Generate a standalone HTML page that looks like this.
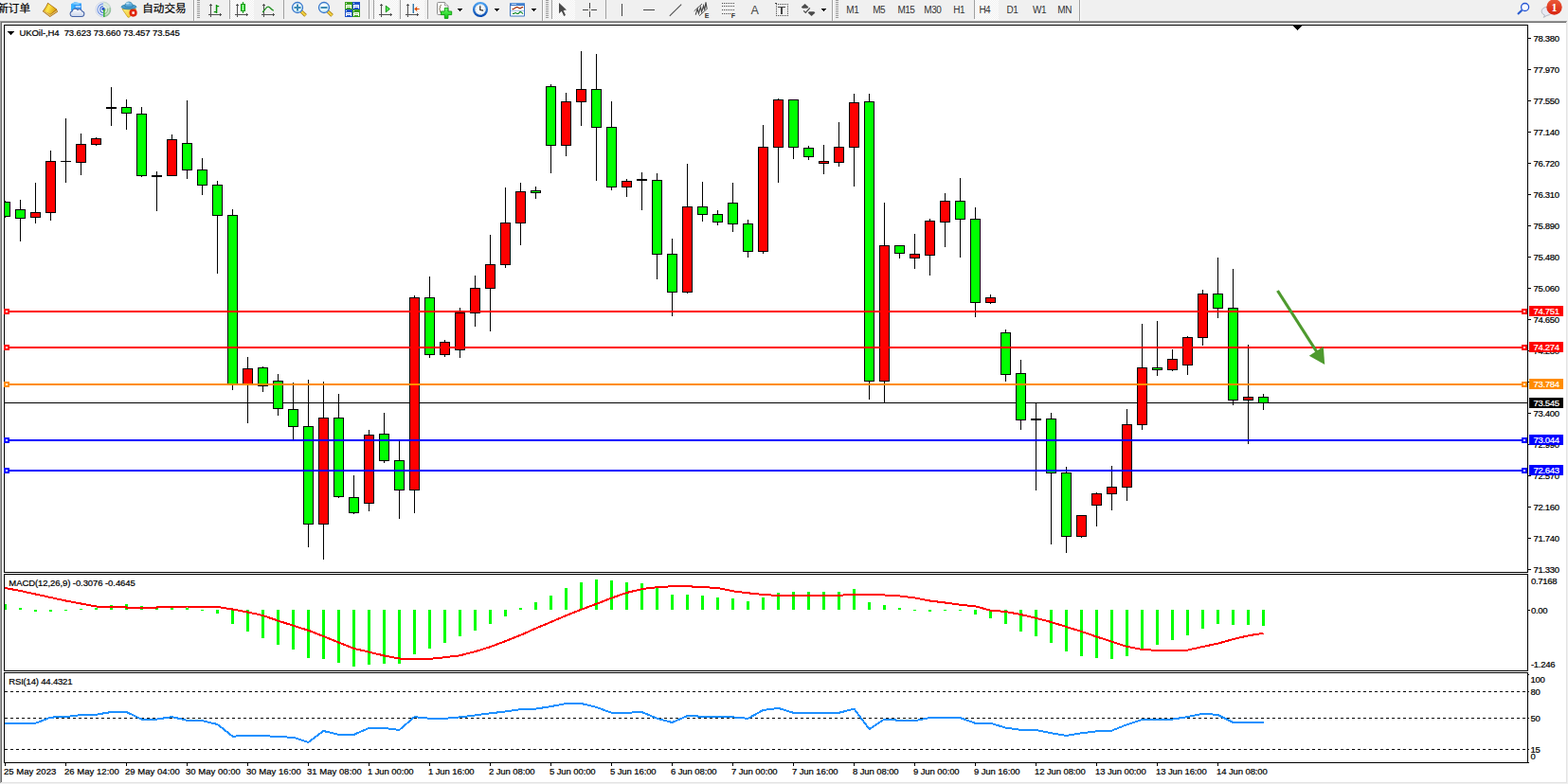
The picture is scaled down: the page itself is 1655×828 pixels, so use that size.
<!DOCTYPE html>
<html><head><meta charset="utf-8"><title>chart</title>
<style>html,body{margin:0;padding:0;width:1655px;height:828px;overflow:hidden;background:#f0f0f0;font-family:"Liberation Sans",sans-serif}</style>
</head><body>
<svg width="1655" height="828" viewBox="0 0 1655 828" style="position:absolute;left:0;top:0;font-family:'Liberation Sans',sans-serif" shape-rendering="crispEdges">
<rect x="0" y="0" width="1655" height="828" fill="#f0f0f0"/>
<rect x="0" y="22" width="1654" height="805" fill="#e3e3e3"/>
<rect x="0" y="22" width="1653" height="804" fill="#fff"/>
<rect x="0" y="22" width="1654" height="1" fill="#a0a0a0"/>
<rect x="0" y="23" width="1653" height="1" fill="#696969"/>
<rect x="0" y="22" width="1" height="805" fill="#a0a0a0"/>
<rect x="1" y="23" width="1" height="803" fill="#696969"/>
<rect x="4" y="26" width="1609" height="1" fill="#000"/>
<rect x="4" y="26" width="1" height="780" fill="#000"/>
<rect x="1612" y="26" width="1" height="780" fill="#000"/>
<rect x="4" y="604" width="1609" height="1" fill="#000"/>
<rect x="4" y="606" width="1609" height="1" fill="#000"/>
<rect x="4" y="708" width="1609" height="1" fill="#000"/>
<rect x="4" y="710" width="1609" height="1" fill="#000"/>
<rect x="4" y="805" width="1609" height="1" fill="#000"/>
<rect x="4" y="605" width="1609" height="1" fill="#fff"/>
<rect x="4" y="709" width="1609" height="1" fill="#fff"/>
<rect x="1365" y="27" width="9" height="1" fill="#000"/>
<rect x="1366" y="28" width="7" height="1" fill="#000"/>
<rect x="1367" y="29" width="5" height="1" fill="#000"/>
<rect x="1368" y="30" width="3" height="1" fill="#000"/>
<rect x="1369" y="31" width="1" height="1" fill="#000"/>
<rect x="5" y="425" width="1607" height="1" fill="#000"/>
<rect x="5" y="212" width="1" height="18" fill="#000"/>
<rect x="5" y="213" width="6" height="16" fill="#000"/>
<rect x="5" y="214" width="5" height="14" fill="#00ff00"/>
<rect x="21" y="211" width="1" height="44" fill="#000"/>
<rect x="16" y="221" width="11" height="10" fill="#000"/>
<rect x="17" y="222" width="9" height="8" fill="#00ff00"/>
<rect x="37" y="193" width="1" height="43" fill="#000"/>
<rect x="32" y="224" width="11" height="6" fill="#000"/>
<rect x="33" y="225" width="9" height="4" fill="#ff0000"/>
<rect x="53" y="159" width="1" height="74" fill="#000"/>
<rect x="48" y="170" width="11" height="55" fill="#000"/>
<rect x="49" y="171" width="9" height="53" fill="#ff0000"/>
<rect x="69" y="125" width="1" height="68" fill="#000"/>
<rect x="64" y="170" width="11" height="1" fill="#000"/>
<rect x="85" y="141" width="1" height="44" fill="#000"/>
<rect x="80" y="152" width="11" height="20" fill="#000"/>
<rect x="81" y="153" width="9" height="18" fill="#ff0000"/>
<rect x="101" y="145" width="1" height="9" fill="#000"/>
<rect x="96" y="146" width="11" height="7" fill="#000"/>
<rect x="97" y="147" width="9" height="5" fill="#ff0000"/>
<rect x="117" y="92" width="1" height="41" fill="#000"/>
<rect x="112" y="113" width="11" height="2" fill="#000"/>
<rect x="133" y="105" width="1" height="32" fill="#000"/>
<rect x="128" y="113" width="11" height="7" fill="#000"/>
<rect x="129" y="114" width="9" height="5" fill="#00ff00"/>
<rect x="149" y="113" width="1" height="74" fill="#000"/>
<rect x="144" y="120" width="11" height="66" fill="#000"/>
<rect x="145" y="121" width="9" height="64" fill="#00ff00"/>
<rect x="165" y="181" width="1" height="42" fill="#000"/>
<rect x="160" y="185" width="11" height="2" fill="#000"/>
<rect x="181" y="142" width="1" height="44" fill="#000"/>
<rect x="176" y="147" width="11" height="39" fill="#000"/>
<rect x="177" y="148" width="9" height="37" fill="#ff0000"/>
<rect x="197" y="106" width="1" height="83" fill="#000"/>
<rect x="192" y="151" width="11" height="29" fill="#000"/>
<rect x="193" y="152" width="9" height="27" fill="#00ff00"/>
<rect x="213" y="167" width="1" height="39" fill="#000"/>
<rect x="208" y="179" width="11" height="17" fill="#000"/>
<rect x="209" y="180" width="9" height="15" fill="#00ff00"/>
<rect x="229" y="191" width="1" height="98" fill="#000"/>
<rect x="224" y="195" width="11" height="33" fill="#000"/>
<rect x="225" y="196" width="9" height="31" fill="#00ff00"/>
<rect x="245" y="221" width="1" height="191" fill="#000"/>
<rect x="240" y="227" width="11" height="179" fill="#000"/>
<rect x="241" y="228" width="9" height="177" fill="#00ff00"/>
<rect x="261" y="377" width="1" height="70" fill="#000"/>
<rect x="256" y="389" width="11" height="17" fill="#000"/>
<rect x="257" y="390" width="9" height="15" fill="#ff0000"/>
<rect x="277" y="387" width="1" height="27" fill="#000"/>
<rect x="272" y="388" width="11" height="20" fill="#000"/>
<rect x="273" y="389" width="9" height="18" fill="#00ff00"/>
<rect x="293" y="395" width="1" height="44" fill="#000"/>
<rect x="288" y="402" width="11" height="30" fill="#000"/>
<rect x="289" y="403" width="9" height="28" fill="#00ff00"/>
<rect x="309" y="404" width="1" height="60" fill="#000"/>
<rect x="304" y="432" width="11" height="19" fill="#000"/>
<rect x="305" y="433" width="9" height="17" fill="#00ff00"/>
<rect x="325" y="401" width="1" height="177" fill="#000"/>
<rect x="320" y="450" width="11" height="104" fill="#000"/>
<rect x="321" y="451" width="9" height="102" fill="#00ff00"/>
<rect x="341" y="403" width="1" height="188" fill="#000"/>
<rect x="336" y="441" width="11" height="113" fill="#000"/>
<rect x="337" y="442" width="9" height="111" fill="#ff0000"/>
<rect x="357" y="416" width="1" height="110" fill="#000"/>
<rect x="352" y="441" width="11" height="84" fill="#000"/>
<rect x="353" y="442" width="9" height="82" fill="#00ff00"/>
<rect x="373" y="502" width="1" height="41" fill="#000"/>
<rect x="368" y="525" width="11" height="17" fill="#000"/>
<rect x="369" y="526" width="9" height="15" fill="#00ff00"/>
<rect x="389" y="454" width="1" height="86" fill="#000"/>
<rect x="384" y="459" width="11" height="73" fill="#000"/>
<rect x="385" y="460" width="9" height="71" fill="#ff0000"/>
<rect x="405" y="436" width="1" height="53" fill="#000"/>
<rect x="400" y="458" width="11" height="29" fill="#000"/>
<rect x="401" y="459" width="9" height="27" fill="#00ff00"/>
<rect x="421" y="466" width="1" height="82" fill="#000"/>
<rect x="416" y="486" width="11" height="32" fill="#000"/>
<rect x="417" y="487" width="9" height="30" fill="#00ff00"/>
<rect x="437" y="312" width="1" height="230" fill="#000"/>
<rect x="432" y="314" width="11" height="204" fill="#000"/>
<rect x="433" y="315" width="9" height="202" fill="#ff0000"/>
<rect x="453" y="292" width="1" height="86" fill="#000"/>
<rect x="448" y="314" width="11" height="61" fill="#000"/>
<rect x="449" y="315" width="9" height="59" fill="#00ff00"/>
<rect x="469" y="359" width="1" height="18" fill="#000"/>
<rect x="464" y="361" width="11" height="14" fill="#000"/>
<rect x="465" y="362" width="9" height="12" fill="#ff0000"/>
<rect x="485" y="325" width="1" height="53" fill="#000"/>
<rect x="480" y="330" width="11" height="40" fill="#000"/>
<rect x="481" y="331" width="9" height="38" fill="#ff0000"/>
<rect x="501" y="291" width="1" height="54" fill="#000"/>
<rect x="496" y="304" width="11" height="27" fill="#000"/>
<rect x="497" y="305" width="9" height="25" fill="#ff0000"/>
<rect x="517" y="248" width="1" height="102" fill="#000"/>
<rect x="512" y="279" width="11" height="26" fill="#000"/>
<rect x="513" y="280" width="9" height="24" fill="#ff0000"/>
<rect x="533" y="198" width="1" height="85" fill="#000"/>
<rect x="528" y="235" width="11" height="45" fill="#000"/>
<rect x="529" y="236" width="9" height="43" fill="#ff0000"/>
<rect x="549" y="193" width="1" height="66" fill="#000"/>
<rect x="544" y="202" width="11" height="34" fill="#000"/>
<rect x="545" y="203" width="9" height="32" fill="#ff0000"/>
<rect x="565" y="197" width="1" height="13" fill="#000"/>
<rect x="560" y="201" width="11" height="3" fill="#000"/>
<rect x="561" y="202" width="9" height="1" fill="#00ff00"/>
<rect x="581" y="89" width="1" height="94" fill="#000"/>
<rect x="576" y="91" width="11" height="63" fill="#000"/>
<rect x="577" y="92" width="9" height="61" fill="#00ff00"/>
<rect x="597" y="98" width="1" height="67" fill="#000"/>
<rect x="592" y="107" width="11" height="47" fill="#000"/>
<rect x="593" y="108" width="9" height="45" fill="#ff0000"/>
<rect x="613" y="54" width="1" height="79" fill="#000"/>
<rect x="608" y="94" width="11" height="14" fill="#000"/>
<rect x="609" y="95" width="9" height="12" fill="#ff0000"/>
<rect x="629" y="57" width="1" height="134" fill="#000"/>
<rect x="624" y="94" width="11" height="41" fill="#000"/>
<rect x="625" y="95" width="9" height="39" fill="#00ff00"/>
<rect x="645" y="107" width="1" height="94" fill="#000"/>
<rect x="640" y="134" width="11" height="64" fill="#000"/>
<rect x="641" y="135" width="9" height="62" fill="#00ff00"/>
<rect x="661" y="189" width="1" height="19" fill="#000"/>
<rect x="656" y="191" width="11" height="7" fill="#000"/>
<rect x="657" y="192" width="9" height="5" fill="#ff0000"/>
<rect x="677" y="182" width="1" height="40" fill="#000"/>
<rect x="672" y="189" width="11" height="2" fill="#000"/>
<rect x="693" y="183" width="1" height="112" fill="#000"/>
<rect x="688" y="190" width="11" height="79" fill="#000"/>
<rect x="689" y="191" width="9" height="77" fill="#00ff00"/>
<rect x="709" y="252" width="1" height="82" fill="#000"/>
<rect x="704" y="268" width="11" height="41" fill="#000"/>
<rect x="705" y="269" width="9" height="39" fill="#00ff00"/>
<rect x="725" y="173" width="1" height="137" fill="#000"/>
<rect x="720" y="218" width="11" height="91" fill="#000"/>
<rect x="721" y="219" width="9" height="89" fill="#ff0000"/>
<rect x="741" y="192" width="1" height="42" fill="#000"/>
<rect x="736" y="218" width="11" height="9" fill="#000"/>
<rect x="737" y="219" width="9" height="7" fill="#00ff00"/>
<rect x="757" y="222" width="1" height="16" fill="#000"/>
<rect x="752" y="226" width="11" height="9" fill="#000"/>
<rect x="753" y="227" width="9" height="7" fill="#00ff00"/>
<rect x="773" y="193" width="1" height="52" fill="#000"/>
<rect x="768" y="214" width="11" height="23" fill="#000"/>
<rect x="769" y="215" width="9" height="21" fill="#00ff00"/>
<rect x="789" y="232" width="1" height="40" fill="#000"/>
<rect x="784" y="236" width="11" height="30" fill="#000"/>
<rect x="785" y="237" width="9" height="28" fill="#00ff00"/>
<rect x="805" y="132" width="1" height="136" fill="#000"/>
<rect x="800" y="155" width="11" height="111" fill="#000"/>
<rect x="801" y="156" width="9" height="109" fill="#ff0000"/>
<rect x="821" y="104" width="1" height="89" fill="#000"/>
<rect x="816" y="105" width="11" height="51" fill="#000"/>
<rect x="817" y="106" width="9" height="49" fill="#ff0000"/>
<rect x="837" y="105" width="1" height="63" fill="#000"/>
<rect x="832" y="105" width="11" height="51" fill="#000"/>
<rect x="833" y="106" width="9" height="49" fill="#00ff00"/>
<rect x="853" y="154" width="1" height="15" fill="#000"/>
<rect x="848" y="156" width="11" height="10" fill="#000"/>
<rect x="849" y="157" width="9" height="8" fill="#00ff00"/>
<rect x="869" y="153" width="1" height="31" fill="#000"/>
<rect x="864" y="170" width="11" height="3" fill="#000"/>
<rect x="865" y="171" width="9" height="1" fill="#ff0000"/>
<rect x="885" y="129" width="1" height="47" fill="#000"/>
<rect x="880" y="155" width="11" height="17" fill="#000"/>
<rect x="881" y="156" width="9" height="15" fill="#ff0000"/>
<rect x="901" y="99" width="1" height="98" fill="#000"/>
<rect x="896" y="108" width="11" height="48" fill="#000"/>
<rect x="897" y="109" width="9" height="46" fill="#ff0000"/>
<rect x="917" y="99" width="1" height="323" fill="#000"/>
<rect x="912" y="107" width="11" height="296" fill="#000"/>
<rect x="913" y="108" width="9" height="294" fill="#00ff00"/>
<rect x="933" y="214" width="1" height="211" fill="#000"/>
<rect x="928" y="259" width="11" height="144" fill="#000"/>
<rect x="929" y="260" width="9" height="142" fill="#ff0000"/>
<rect x="949" y="259" width="1" height="14" fill="#000"/>
<rect x="944" y="259" width="11" height="9" fill="#000"/>
<rect x="945" y="260" width="9" height="7" fill="#00ff00"/>
<rect x="965" y="247" width="1" height="37" fill="#000"/>
<rect x="960" y="268" width="11" height="5" fill="#000"/>
<rect x="961" y="269" width="9" height="3" fill="#ff0000"/>
<rect x="981" y="231" width="1" height="60" fill="#000"/>
<rect x="976" y="233" width="11" height="37" fill="#000"/>
<rect x="977" y="234" width="9" height="35" fill="#ff0000"/>
<rect x="997" y="204" width="1" height="57" fill="#000"/>
<rect x="992" y="212" width="11" height="23" fill="#000"/>
<rect x="993" y="213" width="9" height="21" fill="#ff0000"/>
<rect x="1013" y="188" width="1" height="84" fill="#000"/>
<rect x="1008" y="212" width="11" height="20" fill="#000"/>
<rect x="1009" y="213" width="9" height="18" fill="#00ff00"/>
<rect x="1029" y="219" width="1" height="116" fill="#000"/>
<rect x="1024" y="231" width="11" height="89" fill="#000"/>
<rect x="1025" y="232" width="9" height="87" fill="#00ff00"/>
<rect x="1045" y="311" width="1" height="10" fill="#000"/>
<rect x="1040" y="314" width="11" height="6" fill="#000"/>
<rect x="1041" y="315" width="9" height="4" fill="#ff0000"/>
<rect x="1061" y="348" width="1" height="55" fill="#000"/>
<rect x="1056" y="351" width="11" height="45" fill="#000"/>
<rect x="1057" y="352" width="9" height="43" fill="#00ff00"/>
<rect x="1077" y="380" width="1" height="74" fill="#000"/>
<rect x="1072" y="394" width="11" height="50" fill="#000"/>
<rect x="1073" y="395" width="9" height="48" fill="#00ff00"/>
<rect x="1093" y="426" width="1" height="92" fill="#000"/>
<rect x="1088" y="442" width="11" height="2" fill="#000"/>
<rect x="1109" y="436" width="1" height="139" fill="#000"/>
<rect x="1104" y="442" width="11" height="58" fill="#000"/>
<rect x="1105" y="443" width="9" height="56" fill="#00ff00"/>
<rect x="1125" y="493" width="1" height="91" fill="#000"/>
<rect x="1120" y="499" width="11" height="68" fill="#000"/>
<rect x="1121" y="500" width="9" height="66" fill="#00ff00"/>
<rect x="1141" y="544" width="1" height="24" fill="#000"/>
<rect x="1136" y="544" width="11" height="23" fill="#000"/>
<rect x="1137" y="545" width="9" height="21" fill="#ff0000"/>
<rect x="1157" y="520" width="1" height="36" fill="#000"/>
<rect x="1152" y="521" width="11" height="13" fill="#000"/>
<rect x="1153" y="522" width="9" height="11" fill="#ff0000"/>
<rect x="1173" y="492" width="1" height="47" fill="#000"/>
<rect x="1168" y="514" width="11" height="8" fill="#000"/>
<rect x="1169" y="515" width="9" height="6" fill="#ff0000"/>
<rect x="1189" y="432" width="1" height="97" fill="#000"/>
<rect x="1184" y="448" width="11" height="67" fill="#000"/>
<rect x="1185" y="449" width="9" height="65" fill="#ff0000"/>
<rect x="1205" y="342" width="1" height="112" fill="#000"/>
<rect x="1200" y="388" width="11" height="61" fill="#000"/>
<rect x="1201" y="389" width="9" height="59" fill="#ff0000"/>
<rect x="1221" y="339" width="1" height="58" fill="#000"/>
<rect x="1216" y="388" width="11" height="3" fill="#000"/>
<rect x="1217" y="389" width="9" height="1" fill="#00ff00"/>
<rect x="1237" y="369" width="1" height="23" fill="#000"/>
<rect x="1232" y="379" width="11" height="12" fill="#000"/>
<rect x="1233" y="380" width="9" height="10" fill="#ff0000"/>
<rect x="1253" y="355" width="1" height="41" fill="#000"/>
<rect x="1248" y="356" width="11" height="30" fill="#000"/>
<rect x="1249" y="357" width="9" height="28" fill="#ff0000"/>
<rect x="1269" y="306" width="1" height="59" fill="#000"/>
<rect x="1264" y="310" width="11" height="47" fill="#000"/>
<rect x="1265" y="311" width="9" height="45" fill="#ff0000"/>
<rect x="1285" y="272" width="1" height="64" fill="#000"/>
<rect x="1280" y="310" width="11" height="16" fill="#000"/>
<rect x="1281" y="311" width="9" height="14" fill="#00ff00"/>
<rect x="1301" y="284" width="1" height="144" fill="#000"/>
<rect x="1296" y="325" width="11" height="98" fill="#000"/>
<rect x="1297" y="326" width="9" height="96" fill="#00ff00"/>
<rect x="1317" y="364" width="1" height="105" fill="#000"/>
<rect x="1312" y="419" width="11" height="4" fill="#000"/>
<rect x="1313" y="420" width="9" height="2" fill="#ff0000"/>
<rect x="1333" y="416" width="1" height="17" fill="#000"/>
<rect x="1328" y="419" width="11" height="7" fill="#000"/>
<rect x="1329" y="420" width="9" height="5" fill="#00ff00"/>
<rect x="5" y="328" width="1607" height="2" fill="#ff0000"/>
<rect x="4" y="326" width="6" height="6" fill="#ff0000"/>
<rect x="6" y="328" width="2" height="2" fill="#fff"/>
<rect x="1606" y="326" width="6" height="6" fill="#ff0000"/>
<rect x="1608" y="328" width="2" height="2" fill="#fff"/>
<rect x="5" y="366" width="1607" height="2" fill="#ff0000"/>
<rect x="4" y="364" width="6" height="6" fill="#ff0000"/>
<rect x="6" y="366" width="2" height="2" fill="#fff"/>
<rect x="1606" y="364" width="6" height="6" fill="#ff0000"/>
<rect x="1608" y="366" width="2" height="2" fill="#fff"/>
<rect x="5" y="405" width="1607" height="2" fill="#ff8c00"/>
<rect x="4" y="403" width="6" height="6" fill="#ff8c00"/>
<rect x="6" y="405" width="2" height="2" fill="#fff"/>
<rect x="1606" y="403" width="6" height="6" fill="#ff8c00"/>
<rect x="1608" y="405" width="2" height="2" fill="#fff"/>
<rect x="5" y="464" width="1607" height="2" fill="#0000ff"/>
<rect x="4" y="462" width="6" height="6" fill="#0000ff"/>
<rect x="6" y="464" width="2" height="2" fill="#fff"/>
<rect x="1606" y="462" width="6" height="6" fill="#0000ff"/>
<rect x="1608" y="464" width="2" height="2" fill="#fff"/>
<rect x="5" y="496" width="1607" height="2" fill="#0000ff"/>
<rect x="4" y="494" width="6" height="6" fill="#0000ff"/>
<rect x="6" y="496" width="2" height="2" fill="#fff"/>
<rect x="1606" y="494" width="6" height="6" fill="#0000ff"/>
<rect x="1608" y="496" width="2" height="2" fill="#fff"/>
<g shape-rendering="geometricPrecision"><line x1="1348.5" y1="307" x2="1392" y2="375" stroke="#4e9a2e" stroke-width="3.2"/><polygon points="1396.8,366 1381.8,375.7 1398.2,384.9" fill="#4e9a2e"/></g>
<rect x="5" y="638" width="2" height="6" fill="#00ff00"/>
<rect x="20" y="642" width="3" height="2" fill="#00ff00"/>
<rect x="36" y="644" width="3" height="2" fill="#00ff00"/>
<rect x="52" y="644" width="3" height="2" fill="#00ff00"/>
<rect x="68" y="644" width="3" height="1" fill="#00ff00"/>
<rect x="84" y="643" width="3" height="1" fill="#00ff00"/>
<rect x="100" y="642" width="3" height="2" fill="#00ff00"/>
<rect x="116" y="639" width="3" height="5" fill="#00ff00"/>
<rect x="132" y="638" width="3" height="6" fill="#00ff00"/>
<rect x="148" y="640" width="3" height="4" fill="#00ff00"/>
<rect x="164" y="642" width="3" height="2" fill="#00ff00"/>
<rect x="180" y="642" width="3" height="2" fill="#00ff00"/>
<rect x="196" y="642" width="3" height="2" fill="#00ff00"/>
<rect x="212" y="644" width="3" height="1" fill="#00ff00"/>
<rect x="228" y="644" width="3" height="4" fill="#00ff00"/>
<rect x="244" y="644" width="3" height="15" fill="#00ff00"/>
<rect x="260" y="644" width="3" height="23" fill="#00ff00"/>
<rect x="276" y="644" width="3" height="30" fill="#00ff00"/>
<rect x="292" y="644" width="3" height="37" fill="#00ff00"/>
<rect x="308" y="644" width="3" height="42" fill="#00ff00"/>
<rect x="324" y="644" width="3" height="51" fill="#00ff00"/>
<rect x="340" y="644" width="3" height="52" fill="#00ff00"/>
<rect x="356" y="644" width="3" height="56" fill="#00ff00"/>
<rect x="372" y="644" width="3" height="60" fill="#00ff00"/>
<rect x="388" y="644" width="3" height="58" fill="#00ff00"/>
<rect x="404" y="644" width="3" height="57" fill="#00ff00"/>
<rect x="420" y="644" width="3" height="57" fill="#00ff00"/>
<rect x="436" y="644" width="3" height="47" fill="#00ff00"/>
<rect x="452" y="644" width="3" height="41" fill="#00ff00"/>
<rect x="468" y="644" width="3" height="35" fill="#00ff00"/>
<rect x="484" y="644" width="3" height="28" fill="#00ff00"/>
<rect x="500" y="644" width="3" height="22" fill="#00ff00"/>
<rect x="516" y="644" width="3" height="15" fill="#00ff00"/>
<rect x="532" y="644" width="3" height="7" fill="#00ff00"/>
<rect x="548" y="642" width="3" height="2" fill="#00ff00"/>
<rect x="564" y="636" width="3" height="8" fill="#00ff00"/>
<rect x="580" y="629" width="3" height="15" fill="#00ff00"/>
<rect x="596" y="621" width="3" height="23" fill="#00ff00"/>
<rect x="612" y="615" width="3" height="29" fill="#00ff00"/>
<rect x="628" y="612" width="3" height="32" fill="#00ff00"/>
<rect x="644" y="613" width="3" height="31" fill="#00ff00"/>
<rect x="660" y="615" width="3" height="29" fill="#00ff00"/>
<rect x="676" y="616" width="3" height="28" fill="#00ff00"/>
<rect x="692" y="621" width="3" height="23" fill="#00ff00"/>
<rect x="708" y="628" width="3" height="16" fill="#00ff00"/>
<rect x="724" y="628" width="3" height="16" fill="#00ff00"/>
<rect x="740" y="629" width="3" height="15" fill="#00ff00"/>
<rect x="756" y="631" width="3" height="13" fill="#00ff00"/>
<rect x="772" y="632" width="3" height="12" fill="#00ff00"/>
<rect x="788" y="635" width="3" height="9" fill="#00ff00"/>
<rect x="804" y="631" width="3" height="13" fill="#00ff00"/>
<rect x="820" y="626" width="3" height="18" fill="#00ff00"/>
<rect x="836" y="625" width="3" height="19" fill="#00ff00"/>
<rect x="852" y="625" width="3" height="19" fill="#00ff00"/>
<rect x="868" y="625" width="3" height="19" fill="#00ff00"/>
<rect x="884" y="625" width="3" height="19" fill="#00ff00"/>
<rect x="900" y="622" width="3" height="22" fill="#00ff00"/>
<rect x="916" y="636" width="3" height="8" fill="#00ff00"/>
<rect x="932" y="639" width="3" height="5" fill="#00ff00"/>
<rect x="948" y="642" width="3" height="2" fill="#00ff00"/>
<rect x="964" y="644" width="3" height="1" fill="#00ff00"/>
<rect x="980" y="644" width="3" height="2" fill="#00ff00"/>
<rect x="996" y="644" width="3" height="1" fill="#00ff00"/>
<rect x="1012" y="644" width="3" height="1" fill="#00ff00"/>
<rect x="1028" y="644" width="3" height="5" fill="#00ff00"/>
<rect x="1044" y="644" width="3" height="9" fill="#00ff00"/>
<rect x="1060" y="644" width="3" height="15" fill="#00ff00"/>
<rect x="1076" y="644" width="3" height="23" fill="#00ff00"/>
<rect x="1092" y="644" width="3" height="28" fill="#00ff00"/>
<rect x="1108" y="644" width="3" height="35" fill="#00ff00"/>
<rect x="1124" y="644" width="3" height="44" fill="#00ff00"/>
<rect x="1140" y="644" width="3" height="49" fill="#00ff00"/>
<rect x="1156" y="644" width="3" height="51" fill="#00ff00"/>
<rect x="1172" y="644" width="3" height="52" fill="#00ff00"/>
<rect x="1188" y="644" width="3" height="49" fill="#00ff00"/>
<rect x="1204" y="644" width="3" height="43" fill="#00ff00"/>
<rect x="1220" y="644" width="3" height="37" fill="#00ff00"/>
<rect x="1236" y="644" width="3" height="32" fill="#00ff00"/>
<rect x="1252" y="644" width="3" height="27" fill="#00ff00"/>
<rect x="1268" y="644" width="3" height="20" fill="#00ff00"/>
<rect x="1284" y="644" width="3" height="15" fill="#00ff00"/>
<rect x="1300" y="644" width="3" height="16" fill="#00ff00"/>
<rect x="1316" y="644" width="3" height="16" fill="#00ff00"/>
<rect x="1332" y="644" width="3" height="17" fill="#00ff00"/>
<polyline points="5,621 5.5,621 21.5,624 37.5,627.5 53.5,631 69.5,634.5 85.5,637.5 101.5,640.5 117.5,641 133.5,641.5 149.5,641.5 165.5,641.5 181.5,641 197.5,640.5 213.5,640.5 229.5,641 245.5,643.5 261.5,646.5 277.5,650 293.5,655.6 309.5,660.7 325.5,665.8 341.5,672 357.5,678.5 373.5,684.9 389.5,688.6 405.5,692.5 421.5,695.5 437.5,695.9 453.5,695.9 469.5,694.2 485.5,692.3 501.5,688.1 517.5,683.2 533.5,677.1 549.5,670.8 565.5,663.6 581.5,657 597.5,650 613.5,643.8 629.5,637.8 645.5,631.6 661.5,626 677.5,622.1 693.5,620.2 709.5,619.2 725.5,619.2 741.5,620.2 757.5,620.9 773.5,624.3 789.5,626.3 805.5,628 821.5,629 837.5,629 853.5,629 869.5,629 885.5,628.7 901.5,628 917.5,628 933.5,628.5 949.5,629.4 965.5,631.4 981.5,634.5 997.5,636.5 1013.5,638.7 1029.5,640.4 1045.5,644.6 1061.5,646 1077.5,649 1093.5,652.9 1109.5,657 1125.5,662 1141.5,667 1157.5,672.5 1173.5,677.6 1189.5,682.9 1205.5,685.9 1221.5,686.9 1237.5,686.9 1253.5,686.6 1269.5,683 1285.5,679.6 1301.5,675.1 1317.5,671.3 1333.5,668.8" fill="none" stroke="#ff0000" stroke-width="2"/>
<path d="M5 730.5H1612" stroke="#000" stroke-width="1" stroke-dasharray="3 3" fill="none"/>
<path d="M5 758.5H1612" stroke="#000" stroke-width="1" stroke-dasharray="3 3" fill="none"/>
<path d="M5 791.5H1612" stroke="#000" stroke-width="1" stroke-dasharray="3 3" fill="none"/>
<polyline points="5,763.8 5.5,763.8 21.5,763.8 37.5,763.8 53.5,757.6 69.5,757.1 85.5,755 101.5,754.7 117.5,752 133.5,752 149.5,759.6 165.5,759.6 181.5,757.1 197.5,760.8 213.5,761.1 229.5,765 245.5,777.7 261.5,776.9 277.5,776.9 293.5,778.2 309.5,778.7 325.5,784 341.5,772 357.5,775.9 373.5,775.9 389.5,768.9 405.5,768.9 421.5,770.9 437.5,757.1 453.5,758.8 469.5,758.8 485.5,757.4 501.5,755.4 517.5,753.3 533.5,751.5 549.5,749.1 565.5,748.6 581.5,746.1 597.5,743 613.5,743 629.5,746.9 645.5,752.8 661.5,752.8 677.5,752 693.5,758.8 709.5,763 725.5,756.1 741.5,756.7 757.5,757.1 773.5,757.4 789.5,758.8 805.5,750 821.5,747.9 837.5,752.8 853.5,752.8 869.5,752.8 885.5,752.8 901.5,748.6 917.5,770.1 933.5,759.6 949.5,760.8 965.5,761.1 981.5,758.1 997.5,758.1 1013.5,758.1 1029.5,763.8 1045.5,763.8 1061.5,768.6 1077.5,770.9 1093.5,770.9 1109.5,774.3 1125.5,776.9 1141.5,774.3 1157.5,772.3 1173.5,771.6 1189.5,765.2 1205.5,760.1 1221.5,759.9 1237.5,759.6 1253.5,757.1 1269.5,753.7 1285.5,754.9 1301.5,763 1317.5,763 1333.5,763" fill="none" stroke="#1e90ff" stroke-width="2"/>
<g shape-rendering="auto">
<rect x="1613" y="40" width="3" height="1" fill="#000"/>
<text x="1618.5" y="43.7" font-size="9.5" letter-spacing="-0.29" fill="#000" stroke="#000" stroke-width="0.22" text-anchor="start" >78.380</text>
<rect x="1613" y="73" width="3" height="1" fill="#000"/>
<text x="1618.5" y="76.7" font-size="9.5" letter-spacing="-0.29" fill="#000" stroke="#000" stroke-width="0.22" text-anchor="start" >77.970</text>
<rect x="1613" y="106" width="3" height="1" fill="#000"/>
<text x="1618.5" y="109.7" font-size="9.5" letter-spacing="-0.29" fill="#000" stroke="#000" stroke-width="0.22" text-anchor="start" >77.550</text>
<rect x="1613" y="139" width="3" height="1" fill="#000"/>
<text x="1618.5" y="142.7" font-size="9.5" letter-spacing="-0.29" fill="#000" stroke="#000" stroke-width="0.22" text-anchor="start" >77.140</text>
<rect x="1613" y="172" width="3" height="1" fill="#000"/>
<text x="1618.5" y="175.7" font-size="9.5" letter-spacing="-0.29" fill="#000" stroke="#000" stroke-width="0.22" text-anchor="start" >76.720</text>
<rect x="1613" y="205" width="3" height="1" fill="#000"/>
<text x="1618.5" y="208.7" font-size="9.5" letter-spacing="-0.29" fill="#000" stroke="#000" stroke-width="0.22" text-anchor="start" >76.310</text>
<rect x="1613" y="238" width="3" height="1" fill="#000"/>
<text x="1618.5" y="241.7" font-size="9.5" letter-spacing="-0.29" fill="#000" stroke="#000" stroke-width="0.22" text-anchor="start" >75.890</text>
<rect x="1613" y="271" width="3" height="1" fill="#000"/>
<text x="1618.5" y="274.7" font-size="9.5" letter-spacing="-0.29" fill="#000" stroke="#000" stroke-width="0.22" text-anchor="start" >75.480</text>
<rect x="1613" y="304" width="3" height="1" fill="#000"/>
<text x="1618.5" y="307.7" font-size="9.5" letter-spacing="-0.29" fill="#000" stroke="#000" stroke-width="0.22" text-anchor="start" >75.060</text>
<rect x="1613" y="337" width="3" height="1" fill="#000"/>
<text x="1618.5" y="340.7" font-size="9.5" letter-spacing="-0.29" fill="#000" stroke="#000" stroke-width="0.22" text-anchor="start" >74.650</text>
<rect x="1613" y="370" width="3" height="1" fill="#000"/>
<text x="1618.5" y="373.7" font-size="9.5" letter-spacing="-0.29" fill="#000" stroke="#000" stroke-width="0.22" text-anchor="start" >74.230</text>
<rect x="1613" y="403" width="3" height="1" fill="#000"/>
<rect x="1613" y="436" width="3" height="1" fill="#000"/>
<text x="1618.5" y="439.7" font-size="9.5" letter-spacing="-0.29" fill="#000" stroke="#000" stroke-width="0.22" text-anchor="start" >73.400</text>
<rect x="1613" y="469" width="3" height="1" fill="#000"/>
<text x="1618.5" y="472.7" font-size="9.5" letter-spacing="-0.29" fill="#000" stroke="#000" stroke-width="0.22" text-anchor="start" >72.990</text>
<rect x="1613" y="502" width="3" height="1" fill="#000"/>
<text x="1618.5" y="505.7" font-size="9.5" letter-spacing="-0.29" fill="#000" stroke="#000" stroke-width="0.22" text-anchor="start" >72.570</text>
<rect x="1613" y="535" width="3" height="1" fill="#000"/>
<text x="1618.5" y="538.7" font-size="9.5" letter-spacing="-0.29" fill="#000" stroke="#000" stroke-width="0.22" text-anchor="start" >72.160</text>
<rect x="1613" y="568" width="3" height="1" fill="#000"/>
<text x="1618.5" y="571.7" font-size="9.5" letter-spacing="-0.29" fill="#000" stroke="#000" stroke-width="0.22" text-anchor="start" >71.740</text>
<rect x="1613" y="601" width="3" height="1" fill="#000"/>
<text x="1618.5" y="604.7" font-size="9.5" letter-spacing="-0.29" fill="#000" stroke="#000" stroke-width="0.22" text-anchor="start" >71.330</text>
</g>
<rect x="1614" y="323" width="36" height="11" fill="#ff0000"/>
<g shape-rendering="auto">
<text x="1618.5" y="331.7" font-size="9.5" letter-spacing="-0.29" fill="#fff" stroke="#fff" stroke-width="0.22" text-anchor="start" >74.751</text>
</g>
<rect x="1614" y="361" width="36" height="11" fill="#ff0000"/>
<g shape-rendering="auto">
<text x="1618.5" y="369.7" font-size="9.5" letter-spacing="-0.29" fill="#fff" stroke="#fff" stroke-width="0.22" text-anchor="start" >74.274</text>
</g>
<rect x="1614" y="400" width="36" height="11" fill="#ff8c00"/>
<g shape-rendering="auto">
<text x="1618.5" y="408.7" font-size="9.5" letter-spacing="-0.29" fill="#fff" stroke="#fff" stroke-width="0.22" text-anchor="start" >73.784</text>
</g>
<rect x="1614" y="420" width="36" height="11" fill="#000"/>
<g shape-rendering="auto">
<text x="1618.5" y="428.7" font-size="9.5" letter-spacing="-0.29" fill="#fff" stroke="#fff" stroke-width="0.22" text-anchor="start" >73.545</text>
</g>
<rect x="1614" y="459" width="36" height="11" fill="#0000ff"/>
<g shape-rendering="auto">
<text x="1618.5" y="467.7" font-size="9.5" letter-spacing="-0.29" fill="#fff" stroke="#fff" stroke-width="0.22" text-anchor="start" >73.044</text>
</g>
<rect x="1614" y="491" width="36" height="11" fill="#0000ff"/>
<g shape-rendering="auto">
<text x="1618.5" y="499.7" font-size="9.5" letter-spacing="-0.29" fill="#fff" stroke="#fff" stroke-width="0.22" text-anchor="start" >72.643</text>
</g>
<g shape-rendering="auto">
<text x="1616" y="616.7" font-size="9.5" letter-spacing="-0.29" fill="#000" stroke="#000" stroke-width="0.22" text-anchor="start" >0.7168</text>
<rect x="1613" y="644" width="2" height="1" fill="#000"/>
<text x="1616" y="647.7" font-size="9.5" letter-spacing="-0.29" fill="#000" stroke="#000" stroke-width="0.22" text-anchor="start" >0.00</text>
<text x="1616" y="704.7" font-size="9.5" letter-spacing="-0.29" fill="#000" stroke="#000" stroke-width="0.22" text-anchor="start" >-1.246</text>
<rect x="1613" y="712" width="1" height="1" fill="#000"/>
<text x="1615.5" y="720.7" font-size="9.5" letter-spacing="-0.29" fill="#000" stroke="#000" stroke-width="0.22" text-anchor="start" >100</text>
<rect x="1613" y="730" width="1" height="1" fill="#000"/>
<text x="1615.5" y="733.7" font-size="9.5" letter-spacing="-0.29" fill="#000" stroke="#000" stroke-width="0.22" text-anchor="start" >80</text>
<rect x="1613" y="758" width="1" height="1" fill="#000"/>
<text x="1615.5" y="761.7" font-size="9.5" letter-spacing="-0.29" fill="#000" stroke="#000" stroke-width="0.22" text-anchor="start" >50</text>
<rect x="1613" y="791" width="1" height="1" fill="#000"/>
<text x="1615.5" y="794.7" font-size="9.5" letter-spacing="-0.29" fill="#000" stroke="#000" stroke-width="0.22" text-anchor="start" >15</text>
<rect x="1613" y="805" width="1" height="1" fill="#000"/>
<text x="1615.5" y="801.7" font-size="9.5" letter-spacing="-0.29" fill="#000" stroke="#000" stroke-width="0.22" text-anchor="start" >0</text>
<text x="20.5" y="37.8" font-size="9.5" letter-spacing="-0.08" fill="#000" stroke="#000" stroke-width="0.22" text-anchor="start" >UKOil-,H4&#160;&#160;73.623 73.660 73.457 73.545</text>
<rect x="8" y="33" width="7" height="1" fill="#000"/>
<rect x="9" y="34" width="5" height="1" fill="#000"/>
<rect x="10" y="35" width="3" height="1" fill="#000"/>
<rect x="11" y="36" width="1" height="1" fill="#000"/>
<text x="9.3" y="618.8" font-size="9.5" letter-spacing="-0.08" fill="#000" stroke="#000" stroke-width="0.22" text-anchor="start" >MACD(12,26,9) -0.3076 -0.4645</text>
<text x="9.3" y="722.8" font-size="9.5" letter-spacing="-0.18" fill="#000" stroke="#000" stroke-width="0.22" text-anchor="start" >RSI(14) 44.4321</text>
<rect x="5" y="806" width="1" height="3" fill="#000"/>
<text x="4" y="817.8" font-size="9.5" letter-spacing="0.03" fill="#000" stroke="#000" stroke-width="0.22" text-anchor="start" >25 May 2023</text>
<rect x="69" y="806" width="1" height="3" fill="#000"/>
<text x="68" y="817.8" font-size="9.5" letter-spacing="0.03" fill="#000" stroke="#000" stroke-width="0.22" text-anchor="start" >26 May 12:00</text>
<rect x="133" y="806" width="1" height="3" fill="#000"/>
<text x="132" y="817.8" font-size="9.5" letter-spacing="0.03" fill="#000" stroke="#000" stroke-width="0.22" text-anchor="start" >29 May 04:00</text>
<rect x="197" y="806" width="1" height="3" fill="#000"/>
<text x="196" y="817.8" font-size="9.5" letter-spacing="0.03" fill="#000" stroke="#000" stroke-width="0.22" text-anchor="start" >30 May 00:00</text>
<rect x="261" y="806" width="1" height="3" fill="#000"/>
<text x="260" y="817.8" font-size="9.5" letter-spacing="0.03" fill="#000" stroke="#000" stroke-width="0.22" text-anchor="start" >30 May 16:00</text>
<rect x="325" y="806" width="1" height="3" fill="#000"/>
<text x="324" y="817.8" font-size="9.5" letter-spacing="0.03" fill="#000" stroke="#000" stroke-width="0.22" text-anchor="start" >31 May 08:00</text>
<rect x="389" y="806" width="1" height="3" fill="#000"/>
<text x="388" y="817.8" font-size="9.5" letter-spacing="-0.1" fill="#000" stroke="#000" stroke-width="0.22" text-anchor="start" >1 Jun 00:00</text>
<rect x="453" y="806" width="1" height="3" fill="#000"/>
<text x="452" y="817.8" font-size="9.5" letter-spacing="-0.1" fill="#000" stroke="#000" stroke-width="0.22" text-anchor="start" >1 Jun 16:00</text>
<rect x="517" y="806" width="1" height="3" fill="#000"/>
<text x="516" y="817.8" font-size="9.5" letter-spacing="-0.1" fill="#000" stroke="#000" stroke-width="0.22" text-anchor="start" >2 Jun 08:00</text>
<rect x="581" y="806" width="1" height="3" fill="#000"/>
<text x="580" y="817.8" font-size="9.5" letter-spacing="-0.1" fill="#000" stroke="#000" stroke-width="0.22" text-anchor="start" >5 Jun 00:00</text>
<rect x="645" y="806" width="1" height="3" fill="#000"/>
<text x="644" y="817.8" font-size="9.5" letter-spacing="-0.1" fill="#000" stroke="#000" stroke-width="0.22" text-anchor="start" >5 Jun 16:00</text>
<rect x="709" y="806" width="1" height="3" fill="#000"/>
<text x="708" y="817.8" font-size="9.5" letter-spacing="-0.1" fill="#000" stroke="#000" stroke-width="0.22" text-anchor="start" >6 Jun 08:00</text>
<rect x="773" y="806" width="1" height="3" fill="#000"/>
<text x="772" y="817.8" font-size="9.5" letter-spacing="-0.1" fill="#000" stroke="#000" stroke-width="0.22" text-anchor="start" >7 Jun 00:00</text>
<rect x="837" y="806" width="1" height="3" fill="#000"/>
<text x="836" y="817.8" font-size="9.5" letter-spacing="-0.1" fill="#000" stroke="#000" stroke-width="0.22" text-anchor="start" >7 Jun 16:00</text>
<rect x="901" y="806" width="1" height="3" fill="#000"/>
<text x="900" y="817.8" font-size="9.5" letter-spacing="-0.1" fill="#000" stroke="#000" stroke-width="0.22" text-anchor="start" >8 Jun 08:00</text>
<rect x="965" y="806" width="1" height="3" fill="#000"/>
<text x="964" y="817.8" font-size="9.5" letter-spacing="-0.1" fill="#000" stroke="#000" stroke-width="0.22" text-anchor="start" >9 Jun 00:00</text>
<rect x="1029" y="806" width="1" height="3" fill="#000"/>
<text x="1028" y="817.8" font-size="9.5" letter-spacing="-0.1" fill="#000" stroke="#000" stroke-width="0.22" text-anchor="start" >9 Jun 16:00</text>
<rect x="1093" y="806" width="1" height="3" fill="#000"/>
<text x="1092" y="817.8" font-size="9.5" letter-spacing="-0.1" fill="#000" stroke="#000" stroke-width="0.22" text-anchor="start" >12 Jun 08:00</text>
<rect x="1157" y="806" width="1" height="3" fill="#000"/>
<text x="1156" y="817.8" font-size="9.5" letter-spacing="-0.1" fill="#000" stroke="#000" stroke-width="0.22" text-anchor="start" >13 Jun 00:00</text>
<rect x="1221" y="806" width="1" height="3" fill="#000"/>
<text x="1220" y="817.8" font-size="9.5" letter-spacing="-0.1" fill="#000" stroke="#000" stroke-width="0.22" text-anchor="start" >13 Jun 16:00</text>
<rect x="1285" y="806" width="1" height="3" fill="#000"/>
<text x="1284" y="817.8" font-size="9.5" letter-spacing="-0.1" fill="#000" stroke="#000" stroke-width="0.22" text-anchor="start" >14 Jun 08:00</text>
</g>
<defs>
<pattern id="ck" width="2" height="2" patternUnits="userSpaceOnUse"><rect width="2" height="2" fill="#fff"/><rect width="1" height="1" fill="#efefef"/><rect x="1" y="1" width="1" height="1" fill="#efefef"/></pattern>
<linearGradient id="gold" x1="0" y1="0" x2="1" y2="1"><stop offset="0" stop-color="#fbe25a"/><stop offset="1" stop-color="#e0a800"/></linearGradient>
<linearGradient id="bluebox" x1="0" y1="0" x2="0" y2="1"><stop offset="0" stop-color="#35a8ff"/><stop offset="1" stop-color="#0a6fe8"/></linearGradient>
<linearGradient id="cloud" x1="0" y1="0" x2="0" y2="1"><stop offset="0" stop-color="#ffffff"/><stop offset="1" stop-color="#c8d4ea"/></linearGradient>
<linearGradient id="grn" x1="0" y1="0" x2="1" y2="0"><stop offset="0" stop-color="#38d838"/><stop offset="0.5" stop-color="#a0ffa0"/><stop offset="1" stop-color="#28c828"/></linearGradient>
<linearGradient id="plus" x1="0" y1="0" x2="0" y2="1"><stop offset="0" stop-color="#70ff70"/><stop offset="1" stop-color="#08c008"/></linearGradient>
<linearGradient id="ring" x1="0" y1="0" x2="0" y2="1"><stop offset="0" stop-color="#4aa0f0"/><stop offset="1" stop-color="#0a4cb0"/></linearGradient>
<linearGradient id="tbar" x1="0" y1="0" x2="0" y2="1"><stop offset="0" stop-color="#6aa8ea"/><stop offset="1" stop-color="#2a62b4"/></linearGradient>
<linearGradient id="badge" x1="0" y1="0" x2="0" y2="1"><stop offset="0" stop-color="#ea5a3a"/><stop offset="1" stop-color="#d82410"/></linearGradient>
<radialGradient id="lens" cx="0.4" cy="0.35" r="0.7"><stop offset="0" stop-color="#ffffff"/><stop offset="1" stop-color="#c6ebf8"/></radialGradient>
<linearGradient id="hat" x1="0" y1="0" x2="0" y2="1"><stop offset="0" stop-color="#8ccaf0"/><stop offset="1" stop-color="#3a90c8"/></linearGradient>
<linearGradient id="yel" x1="0" y1="0" x2="1" y2="1"><stop offset="0" stop-color="#fff080"/><stop offset="1" stop-color="#f0c020"/></linearGradient>
</defs>
<g shape-rendering="auto">
<g shape-rendering="crispEdges">
<rect x="204" y="0" width="1" height="22" fill="#a0a0a0" />
<rect x="205" y="0" width="1" height="22" fill="#fff" />
<rect x="208" y="0" width="3" height="1" fill="#9a9a9a" />
<rect x="208" y="2" width="3" height="1" fill="#9a9a9a" />
<rect x="208" y="4" width="3" height="1" fill="#9a9a9a" />
<rect x="208" y="6" width="3" height="1" fill="#9a9a9a" />
<rect x="208" y="8" width="3" height="1" fill="#9a9a9a" />
<rect x="208" y="10" width="3" height="1" fill="#9a9a9a" />
<rect x="208" y="12" width="3" height="1" fill="#9a9a9a" />
<rect x="208" y="14" width="3" height="1" fill="#9a9a9a" />
<rect x="208" y="16" width="3" height="1" fill="#9a9a9a" />
<rect x="208" y="18" width="3" height="1" fill="#9a9a9a" />
<rect x="242" y="0" width="1" height="20" fill="#a0a0a0" />
<rect x="243" y="0" width="25" height="21" fill="url(#ck)" />
<rect x="299" y="0" width="1" height="20" fill="#a0a0a0" />
<rect x="389" y="0" width="1" height="20" fill="#a0a0a0" />
<rect x="394" y="0" width="1" height="20" fill="#a0a0a0" />
<rect x="395" y="0" width="25" height="21" fill="url(#ck)" />
<rect x="422" y="0" width="1" height="20" fill="#a0a0a0" />
<rect x="423" y="0" width="25" height="21" fill="url(#ck)" />
<rect x="451" y="0" width="1" height="20" fill="#a0a0a0" />
<rect x="572" y="0" width="1" height="22" fill="#a0a0a0" />
<rect x="573" y="0" width="1" height="22" fill="#fff" />
<rect x="576" y="0" width="3" height="1" fill="#9a9a9a" />
<rect x="576" y="2" width="3" height="1" fill="#9a9a9a" />
<rect x="576" y="4" width="3" height="1" fill="#9a9a9a" />
<rect x="576" y="6" width="3" height="1" fill="#9a9a9a" />
<rect x="576" y="8" width="3" height="1" fill="#9a9a9a" />
<rect x="576" y="10" width="3" height="1" fill="#9a9a9a" />
<rect x="576" y="12" width="3" height="1" fill="#9a9a9a" />
<rect x="576" y="14" width="3" height="1" fill="#9a9a9a" />
<rect x="576" y="16" width="3" height="1" fill="#9a9a9a" />
<rect x="576" y="18" width="3" height="1" fill="#9a9a9a" />
<rect x="582" y="0" width="1" height="20" fill="#a0a0a0" />
<rect x="583" y="0" width="24" height="21" fill="url(#ck)" />
<rect x="639" y="0" width="1" height="20" fill="#a0a0a0" />
<rect x="878" y="0" width="1" height="22" fill="#a0a0a0" />
<rect x="879" y="0" width="1" height="22" fill="#fff" />
<rect x="882" y="0" width="3" height="1" fill="#9a9a9a" />
<rect x="882" y="2" width="3" height="1" fill="#9a9a9a" />
<rect x="882" y="4" width="3" height="1" fill="#9a9a9a" />
<rect x="882" y="6" width="3" height="1" fill="#9a9a9a" />
<rect x="882" y="8" width="3" height="1" fill="#9a9a9a" />
<rect x="882" y="10" width="3" height="1" fill="#9a9a9a" />
<rect x="882" y="12" width="3" height="1" fill="#9a9a9a" />
<rect x="882" y="14" width="3" height="1" fill="#9a9a9a" />
<rect x="882" y="16" width="3" height="1" fill="#9a9a9a" />
<rect x="882" y="18" width="3" height="1" fill="#9a9a9a" />
<rect x="1028" y="0" width="1" height="20" fill="#a0a0a0" />
<rect x="1029" y="0" width="25" height="21" fill="url(#ck)" />
<rect x="1139" y="0" width="1" height="22" fill="#a0a0a0" />
<rect x="1140" y="0" width="1" height="22" fill="#fff" />
<rect x="483" y="9" width="5" height="1" fill="#000" />
<rect x="484" y="10" width="3" height="1" fill="#000" />
<rect x="485" y="11" width="1" height="1" fill="#000" />
<rect x="522" y="9" width="5" height="1" fill="#000" />
<rect x="523" y="10" width="3" height="1" fill="#000" />
<rect x="524" y="11" width="1" height="1" fill="#000" />
<rect x="561" y="9" width="5" height="1" fill="#000" />
<rect x="562" y="10" width="3" height="1" fill="#000" />
<rect x="563" y="11" width="1" height="1" fill="#000" />
<rect x="867" y="9" width="5" height="1" fill="#000" />
<rect x="868" y="10" width="3" height="1" fill="#000" />
<rect x="869" y="11" width="1" height="1" fill="#000" />
</g>
<text x="-2.8" y="13.2" font-size="11.6" fill="#000" stroke="#000" stroke-width="0.2" text-anchor="start" style="font-family:'Liberation Sans','Noto Sans CJK SC',sans-serif">新订单</text>
<text x="150.2" y="13.2" font-size="11.6" fill="#000" stroke="#000" stroke-width="0.2" text-anchor="start" style="font-family:'Liberation Sans','Noto Sans CJK SC',sans-serif">自动交易</text>
<linearGradient id="gold2" x1="0" y1="0" x2="1" y2="0.35"><stop offset="0" stop-color="#c48c10"/><stop offset="0.45" stop-color="#ffe648"/><stop offset="1" stop-color="#dca414"/></linearGradient>
<path d="M50.4 2.8C49.2 6 47 9 44.9 11.9L52.7 18.1L61 12.5L59.8 9.6Z" fill="#a4680e"/>
<path d="M45.9 12L52.7 17.2L60.2 12.2L59.6 10.8L53.2 15.4L46.6 11Z" fill="#e2bc62"/>
<path d="M50.7 3.8C49.6 6.4 47.8 9 46.2 11.2L53.1 14.9L59.4 9.9Z" fill="url(#gold2)"/>
<polygon points="75.2,4.2 78.8,2.3 85.9,3.4 85.9,11.5 78.6,12.6 75.2,11.2" fill="url(#bluebox)"/>
<polygon points="75.2,4.2 78.8,2.3 85.9,3.4 82.4,5.2" fill="#7ccaff"/>
<polygon points="75.2,4.2 78.6,5.4 78.6,12.5 75.2,11.2" fill="#38b4ff"/>
<rect x="79.6" y="6.3" width="5.6" height="1.3" fill="#eef7ff" />
<rect x="79.6" y="8.7" width="5.6" height="0.8" fill="#7cc0ff" />
<path d="M76.3 17.5h9.8a2.8 2.8 0 0 0 .7-5.5a3.1 3.1 0 0 0-4.8-1.6a3.4 3.4 0 0 0-5.9 1.500a2.9 2.9 0 0 0 .2 5.600z" fill="url(#cloud)" stroke="#4866a8" stroke-width="1.1"/>
<circle cx="109" cy="10" r="8" fill="#f3f6fb" stroke="#b4c0d8" stroke-width="0.6"/>
<path d="M109 10V2A8 8 0 0 1 109 18z" fill="#c4dcc4" opacity="0.75"/>
<path d="M109.5 10L116.8 8A8 8 0 0 1 109.5 18z" fill="#6eb06e" opacity="0.6"/>
<g fill="none" stroke-width="1.3">
<path d="M109 6.7a3.3 3.3 0 0 0 0 6.6" stroke="#4a76d8" opacity="0.95"/>
<path d="M109 6.7a3.3 3.3 0 0 1 0 6.6" stroke="#e8f2e8" opacity="0.95"/>
<path d="M109 4.0a6.0 6.0 0 0 0 0 12.0" stroke="#4a76d8" opacity="0.7"/>
<path d="M109 4.0a6.0 6.0 0 0 1 0 12.0" stroke="#e8f2e8" opacity="0.7"/>
</g>
<circle cx="109" cy="9.4" r="1.7" fill="#2a55c8"/>
<rect x="109.2" y="10" width="1.3" height="8" fill="#22a822" />
<polygon points="129,9.5 143.5,9.5 136.5,18.2 135,18.2" fill="url(#yel)" stroke="#c8a020" stroke-width="0.8"/>
<ellipse cx="136" cy="7.3" rx="7.9" ry="2.5" fill="#4a9ccc" stroke="#2a7ca4" stroke-width="0.8"/>
<path d="M131.9 7c-.6-6.6 8.8-6.6 8.2 0c-1.5 1.2-6.700 1.200-8.200 0z" fill="url(#hat)" stroke="#2a7ca4" stroke-width="0.7"/>
<ellipse cx="134.6" cy="3.6" rx="1.8" ry="1" fill="#c8e8fa" opacity="0.8"/>
<circle cx="140.6" cy="13.6" r="4.1" fill="#e0260e"/>
<rect x="139.4" y="12.3" width="2.5" height="2.5" fill="#fff" />
<g shape-rendering="crispEdges" fill="#505050">
<rect x="222" y="4" width="1" height="14" fill="#505050" />
<rect x="221" y="5" width="3" height="1" fill="#505050" />
<rect x="220" y="15" width="14" height="1" fill="#505050" />
<rect x="232" y="14" width="1" height="3" fill="#505050" />
</g>
<rect x="227.8" y="5" width="1.5" height="9" fill="#0a920a" />
<rect x="229" y="6" width="2.2" height="1.2" fill="#0a920a" />
<rect x="225.8" y="12" width="2.2" height="1.2" fill="#0a920a" />
<g shape-rendering="crispEdges" fill="#505050">
<rect x="250" y="4" width="1" height="14" fill="#505050" />
<rect x="249" y="5" width="3" height="1" fill="#505050" />
<rect x="248" y="15" width="14" height="1" fill="#505050" />
<rect x="260" y="14" width="1" height="3" fill="#505050" />
</g>
<g shape-rendering="crispEdges">
<rect x="256" y="2" width="1" height="12" fill="#0a9a0a" />
<rect x="254" y="4" width="5" height="8" fill="#0a9a0a" />
</g>
<rect x="255" y="5" width="3" height="6" fill="url(#grn)" />
<g shape-rendering="crispEdges" fill="#505050">
<rect x="278" y="4" width="1" height="14" fill="#505050" />
<rect x="277" y="5" width="3" height="1" fill="#505050" />
<rect x="276" y="15" width="14" height="1" fill="#505050" />
<rect x="288" y="14" width="1" height="3" fill="#505050" />
</g>
<path d="M277 12.8c2.5-1.2 3.5-5.6 6-5.6s3 3.4 5.8 4" fill="none" stroke="#209020" stroke-width="1.3"/>
<line x1="318" y1="12" x2="322.6" y2="16.4" stroke="#a87c10" stroke-width="3.6" stroke-linecap="butt"/>
<line x1="318" y1="12" x2="322.4" y2="16.2" stroke="#f0d040" stroke-width="2.2"/>
<circle cx="314" cy="8" r="5.5" fill="url(#lens)" stroke="#3a78cc" stroke-width="1.3"/>
<rect x="310.5" y="7" width="7" height="2" fill="#3e8ab4" />
<rect x="313" y="4.5" width="2" height="7" fill="#3e8ab4" />
<line x1="346" y1="12" x2="350.6" y2="16.4" stroke="#a87c10" stroke-width="3.6" stroke-linecap="butt"/>
<line x1="346" y1="12" x2="350.4" y2="16.2" stroke="#f0d040" stroke-width="2.2"/>
<circle cx="342" cy="8" r="5.5" fill="url(#lens)" stroke="#3a78cc" stroke-width="1.3"/>
<rect x="338.5" y="7" width="7" height="2" fill="#3e8ab4" />
<g shape-rendering="crispEdges">
<rect x="364" y="2" width="8" height="8" fill="#3a9e1c" />
<rect x="365" y="5" width="6" height="4" fill="#fff" />
<rect x="366" y="6" width="4" height="1" fill="#9ad87a" />
<rect x="366" y="8" width="4" height="1" fill="#3a9e1c" />
<rect x="365" y="3" width="1" height="1" fill="#dfe" />
<rect x="372" y="2" width="8" height="8" fill="#1c50c8" />
<rect x="373" y="5" width="6" height="4" fill="#fff" />
<rect x="374" y="6" width="4" height="1" fill="#8aa8f0" />
<rect x="374" y="8" width="4" height="1" fill="#1c50c8" />
<rect x="373" y="3" width="1" height="1" fill="#dfe" />
<rect x="364" y="10" width="8" height="8" fill="#1c50c8" />
<rect x="365" y="13" width="6" height="4" fill="#fff" />
<rect x="366" y="14" width="4" height="1" fill="#8aa8f0" />
<rect x="366" y="16" width="4" height="1" fill="#1c50c8" />
<rect x="365" y="11" width="1" height="1" fill="#dfe" />
<rect x="372" y="10" width="8" height="8" fill="#3a9e1c" />
<rect x="373" y="13" width="6" height="4" fill="#fff" />
<rect x="374" y="14" width="4" height="1" fill="#9ad87a" />
<rect x="374" y="16" width="4" height="1" fill="#3a9e1c" />
<rect x="373" y="11" width="1" height="1" fill="#dfe" />
</g>
<g shape-rendering="crispEdges" fill="#505050">
<rect x="402" y="4" width="1" height="14" fill="#505050" />
<rect x="401" y="5" width="3" height="1" fill="#505050" />
<rect x="400" y="15" width="14" height="1" fill="#505050" />
<rect x="412" y="14" width="1" height="3" fill="#505050" />
</g>
<polygon points="407.3,6.2 407.3,12.8 411.4,9.5" fill="#50e850" stroke="#109410" stroke-width="1"/>
<g shape-rendering="crispEdges" fill="#505050">
<rect x="430" y="4" width="1" height="14" fill="#505050" />
<rect x="429" y="5" width="3" height="1" fill="#505050" />
<rect x="428" y="15" width="14" height="1" fill="#505050" />
<rect x="440" y="14" width="1" height="3" fill="#505050" />
</g>
<rect x="435.6" y="4" width="1.3" height="10" fill="#1a6aa4" />
<polygon points="437.2,9.5 440.4,6.8 440,8.9 442.6,8.9 442.6,10.1 440,10.1 440.4,12.2" fill="#e04a00"/>
<path d="M461.5 3.5a1 1 0 0 1 1-1h7l3.5 3.5v8.5a1 1 0 0 1-1 1h-9.5a1 1 0 0 1-1-1z" fill="#fff" stroke="#8e8e8e" stroke-width="1"/>
<path d="M469.5 2.5v3.5h3.5" fill="#e8e8e8" stroke="#8e8e8e" stroke-width="0.8"/>
<path d="M466 5.2c-1.3.2-1.5 1.2-1.5 2.6s-.4 1.6-.9 1.7c.5.1.9.4.9 1.7s.2 2.4 1.5 2.6" fill="none" stroke="#6a5a3a" stroke-width="0.9"/>
<path d="M469.3 8.4h3.6v3.6h3.8v3.6h-3.8v3.8h-3.6v-3.8h-3.8v-3.6h3.8z" fill="url(#plus)" stroke="#0a9a0a" stroke-width="0.9"/>
<circle cx="507" cy="10" r="6.9" fill="#fafcff" stroke="url(#ring)" stroke-width="2.3"/>
<g stroke="#9aa" stroke-width="0.8">
<line x1="507.00" y1="5.70" x2="507.00" y2="4.80"/>
<line x1="509.15" y1="6.28" x2="509.60" y2="5.50"/>
<line x1="510.72" y1="7.85" x2="511.50" y2="7.40"/>
<line x1="511.30" y1="10.00" x2="512.20" y2="10.00"/>
<line x1="510.72" y1="12.15" x2="511.50" y2="12.60"/>
<line x1="509.15" y1="13.72" x2="509.60" y2="14.50"/>
<line x1="507.00" y1="14.30" x2="507.00" y2="15.20"/>
<line x1="504.85" y1="13.72" x2="504.40" y2="14.50"/>
<line x1="503.28" y1="12.15" x2="502.50" y2="12.60"/>
<line x1="502.70" y1="10.00" x2="501.80" y2="10.00"/>
<line x1="503.28" y1="7.85" x2="502.50" y2="7.40"/>
<line x1="504.85" y1="6.28" x2="504.40" y2="5.50"/>
</g>
<path d="M506.8 6.3v4.2l3.3 0.6" fill="none" stroke="#222" stroke-width="1.2"/>
<rect x="538" y="3" width="16" height="14.5" fill="#3a74c0" rx="1"/>
<rect x="539" y="6" width="14" height="10.5" fill="#fff" />
<rect x="538.6" y="3.4" width="14.8" height="2.6" fill="url(#tbar)" />
<rect x="539" y="11" width="14" height="1" fill="#a8c4ea" />
<rect x="540" y="4" width="5" height="0.8" fill="#d8ecff" />
<polyline points="540.5,9.6 542,9.6 543.6,8.4 545,7.6 546.5,7.6 548,8.6 549.6,8.6 551,7.6 552.2,7.6" fill="none" stroke="#a02a00" stroke-width="1.1"/>
<polyline points="541,14.4 542.6,14.4 544,13.4 545.6,14.4 547,14.4 549,12.5 550.6,13.2 552,14.7" fill="none" stroke="#10882a" stroke-width="1.1"/>
<polygon points="590,3 590,14.2 592.8,11.8 595.2,17 597,16.1 594.6,11 598,10.5" fill="#4a4a4a"/>
<g shape-rendering="crispEdges">
<rect x="622" y="3" width="1" height="6" fill="#454545" />
<rect x="622" y="12" width="1" height="6" fill="#454545" />
<rect x="615" y="10" width="6" height="1" fill="#454545" />
<rect x="624" y="10" width="6" height="1" fill="#454545" />
<rect x="622" y="10" width="1" height="1" fill="#807860" />
<rect x="656" y="4" width="1" height="13" fill="#454545" />
<rect x="679" y="10" width="12" height="1" fill="#454545" />
</g>
<line x1="706.8" y1="16.8" x2="719.2" y2="4.7" stroke="#505050" stroke-width="1.1"/>
<g stroke="#454545" stroke-width="0.9" fill="none">
<line x1="732.6" y1="11.8" x2="741" y2="4"/><line x1="738" y1="16.8" x2="747" y2="8.6"/>
<polyline points="734.2,15.6 736.2,9.2 737.4,14.2 739.4,7.6 740.6,12.4 742.6,6 743.6,10.6 745,2.4 746,8.6" stroke-width="1.1"/>
</g>
<text x="743.8" y="18.6" font-size="7" font-weight="bold" fill="#333">E</text>
<g shape-rendering="crispEdges">
<rect x="762" y="3" width="1" height="1" fill="#454545" />
<rect x="764" y="3" width="1" height="1" fill="#454545" />
<rect x="766" y="3" width="1" height="1" fill="#454545" />
<rect x="768" y="3" width="1" height="1" fill="#454545" />
<rect x="770" y="3" width="1" height="1" fill="#454545" />
<rect x="772" y="3" width="1" height="1" fill="#454545" />
<rect x="774" y="3" width="1" height="1" fill="#454545" />
<rect x="762" y="6" width="1" height="1" fill="#454545" />
<rect x="764" y="6" width="1" height="1" fill="#454545" />
<rect x="766" y="6" width="1" height="1" fill="#454545" />
<rect x="768" y="6" width="1" height="1" fill="#454545" />
<rect x="770" y="6" width="1" height="1" fill="#454545" />
<rect x="772" y="6" width="1" height="1" fill="#454545" />
<rect x="774" y="6" width="1" height="1" fill="#454545" />
<rect x="762" y="10" width="1" height="1" fill="#454545" />
<rect x="764" y="10" width="1" height="1" fill="#454545" />
<rect x="766" y="10" width="1" height="1" fill="#454545" />
<rect x="768" y="10" width="1" height="1" fill="#454545" />
<rect x="770" y="10" width="1" height="1" fill="#454545" />
<rect x="772" y="10" width="1" height="1" fill="#454545" />
<rect x="774" y="10" width="1" height="1" fill="#454545" />
<rect x="762" y="14" width="1" height="1" fill="#454545" />
<rect x="764" y="14" width="1" height="1" fill="#454545" />
<rect x="766" y="14" width="1" height="1" fill="#454545" />
<rect x="768" y="14" width="1" height="1" fill="#454545" />
<rect x="770" y="14" width="1" height="1" fill="#454545" />
</g>
<text x="771.8" y="18.8" font-size="7" font-weight="bold" fill="#333">F</text>
<text x="792.6" y="14.8" font-size="12.5" fill="#4a4a4a">A</text>
<g shape-rendering="crispEdges">
<rect x="819" y="4" width="1" height="1" fill="#454545" />
<rect x="819" y="16" width="1" height="1" fill="#454545" />
<rect x="821" y="4" width="1" height="1" fill="#454545" />
<rect x="821" y="16" width="1" height="1" fill="#454545" />
<rect x="823" y="4" width="1" height="1" fill="#454545" />
<rect x="823" y="16" width="1" height="1" fill="#454545" />
<rect x="825" y="4" width="1" height="1" fill="#454545" />
<rect x="825" y="16" width="1" height="1" fill="#454545" />
<rect x="827" y="4" width="1" height="1" fill="#454545" />
<rect x="827" y="16" width="1" height="1" fill="#454545" />
<rect x="829" y="4" width="1" height="1" fill="#454545" />
<rect x="829" y="16" width="1" height="1" fill="#454545" />
<rect x="831" y="4" width="1" height="1" fill="#454545" />
<rect x="831" y="16" width="1" height="1" fill="#454545" />
<rect x="819" y="4" width="1" height="1" fill="#454545" />
<rect x="831" y="4" width="1" height="1" fill="#454545" />
<rect x="819" y="6" width="1" height="1" fill="#454545" />
<rect x="831" y="6" width="1" height="1" fill="#454545" />
<rect x="819" y="8" width="1" height="1" fill="#454545" />
<rect x="831" y="8" width="1" height="1" fill="#454545" />
<rect x="819" y="10" width="1" height="1" fill="#454545" />
<rect x="831" y="10" width="1" height="1" fill="#454545" />
<rect x="819" y="12" width="1" height="1" fill="#454545" />
<rect x="831" y="12" width="1" height="1" fill="#454545" />
<rect x="819" y="14" width="1" height="1" fill="#454545" />
<rect x="831" y="14" width="1" height="1" fill="#454545" />
<rect x="819" y="16" width="1" height="1" fill="#454545" />
<rect x="831" y="16" width="1" height="1" fill="#454545" />
<rect x="818" y="3" width="2" height="1" fill="#454545" />
<rect x="821" y="7" width="8" height="1.4" fill="#454545" />
<rect x="824" y="7" width="1.6" height="8" fill="#454545" />
</g>
<polygon points="849.6,4 853.4,7.4 852.2,8.8 847,8.8 845.8,7.4" fill="#4a4a4a"/>
<polygon points="856.6,17 860.4,13.6 859.2,12.2 854,12.2 852.8,13.6" fill="#4a4a4a"/>
<polyline points="848.2,11.4 850.3,13.4 854.8,8.4" fill="none" stroke="#4a4a4a" stroke-width="1.3"/>
<text x="893.3" y="14" font-size="10" letter-spacing="-0.5" fill="#333">M1</text>
<text x="921.2" y="14" font-size="10" letter-spacing="-0.5" fill="#333">M5</text>
<text x="947.4" y="14" font-size="10" letter-spacing="-0.5" fill="#333">M15</text>
<text x="975.3" y="14" font-size="10" letter-spacing="-0.5" fill="#333">M30</text>
<text x="1006.2" y="14" font-size="10" letter-spacing="-0.5" fill="#333">H1</text>
<text x="1033.4" y="14" font-size="10" letter-spacing="-0.5" fill="#333">H4</text>
<text x="1062.6" y="14" font-size="10" letter-spacing="-0.5" fill="#333">D1</text>
<text x="1090.1" y="14" font-size="10" letter-spacing="-0.5" fill="#333">W1</text>
<text x="1116.3" y="14" font-size="10" letter-spacing="-0.5" fill="#333">MN</text>
<line x1="1606.4" y1="10.8" x2="1602" y2="15" stroke="#2a5cd0" stroke-width="2.2"/>
<circle cx="1609.6" cy="7.5" r="4" fill="#f8faff" stroke="#2454d4" stroke-width="1.3"/>
<path d="M1629.3 18.4l1.2-2.4a5.4 4.4 0 1 1 2.4 .3z" fill="#e8eaf4" stroke="#aeb2bc" stroke-width="0.9"/>
<circle cx="1640.5" cy="7.5" r="8.2" fill="url(#badge)"/>
<text x="1640.6" y="12" font-size="12" font-weight="bold" fill="#fff" text-anchor="middle" font-family="Liberation Serif, serif">1</text>
</g>
</svg>
</body></html>
